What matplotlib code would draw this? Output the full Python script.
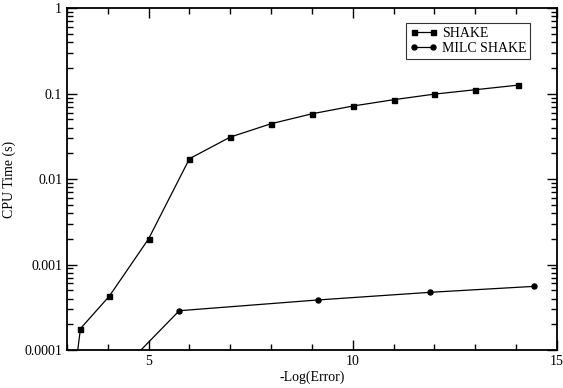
import matplotlib
matplotlib.use("Agg")
import matplotlib.pyplot as plt
from matplotlib.ticker import FixedLocator, FuncFormatter, LogLocator, MultipleLocator

# SHAKE
shake_x = [3.0, 3.33, 4.04, 5.0, 6.0, 7.0, 8.0, 9.0, 10.0, 11.0, 12.0, 13.0, 14.05]
shake_y = [1.0e-5, 1.78e-4, 4.28e-4, 2.0e-3, 0.0173, 0.031, 0.0444, 0.058, 0.0715,
           0.0848, 0.0986, 0.111, 0.1256]

# MILC SHAKE
milc_x = [4.0, 5.75, 9.15, 11.9, 14.44]
milc_y = [4.0e-5, 2.88e-4, 3.85e-4, 4.73e-4, 5.55e-4]

yticks = [1e-4, 1e-3, 1e-2, 1e-1, 1]
ylabels = ["0.0001", "0.001", "0.01", "0.1", "1"]

plt.rcParams["font.family"] = ["Liberation Serif", "DejaVu Serif"]

fig = plt.figure(figsize=(5.63, 3.88), dpi=100)
ax = fig.add_axes([0.119, 0.098, 0.870, 0.881])

ax.plot(shake_x, shake_y, color="black", lw=0.9, marker="s", ms=3.6, label="SHAKE")
ax.plot(milc_x, milc_y, color="black", lw=0.9, marker="o", ms=3.6, label="MILC SHAKE")

ax.set_yscale("log")
ax.set_xlim(3, 15)
ax.set_ylim(1e-4, 1)

ax.xaxis.set_major_locator(FixedLocator([5, 10, 15]))
ax.xaxis.set_minor_locator(MultipleLocator(1))
ax.yaxis.set_major_locator(FixedLocator(yticks))
ax.yaxis.set_major_formatter(FuncFormatter(lambda v, p: ylabels[yticks.index(v)] if v in yticks else ""))
ax.yaxis.set_minor_locator(LogLocator(base=10, subs=range(2, 10)))
ax.yaxis.set_minor_formatter(FuncFormatter(lambda v, p: ""))

ax.tick_params(which="both", direction="in", top=True, right=True, labelsize=10, width=1)
ax.tick_params(which="major", length=7)
ax.tick_params(which="minor", length=4)
for s in ax.spines.values():
    s.set_linewidth(1.3)

ax.set_xlabel("-Log(Error)", fontsize=10, labelpad=2)
ax.set_ylabel("CPU Time (s)", fontsize=10, labelpad=6)

leg = ax.legend(loc="upper right", bbox_to_anchor=(0.946, 0.956), borderaxespad=0,
                fontsize=10, numpoints=2, frameon=True, fancybox=False,
                handlelength=2.0, borderpad=0.3, labelspacing=0.1, handletextpad=0.3)
leg.get_frame().set_edgecolor("black")
leg.get_frame().set_linewidth(0.8)

fig.savefig("out.png", dpi=100)
